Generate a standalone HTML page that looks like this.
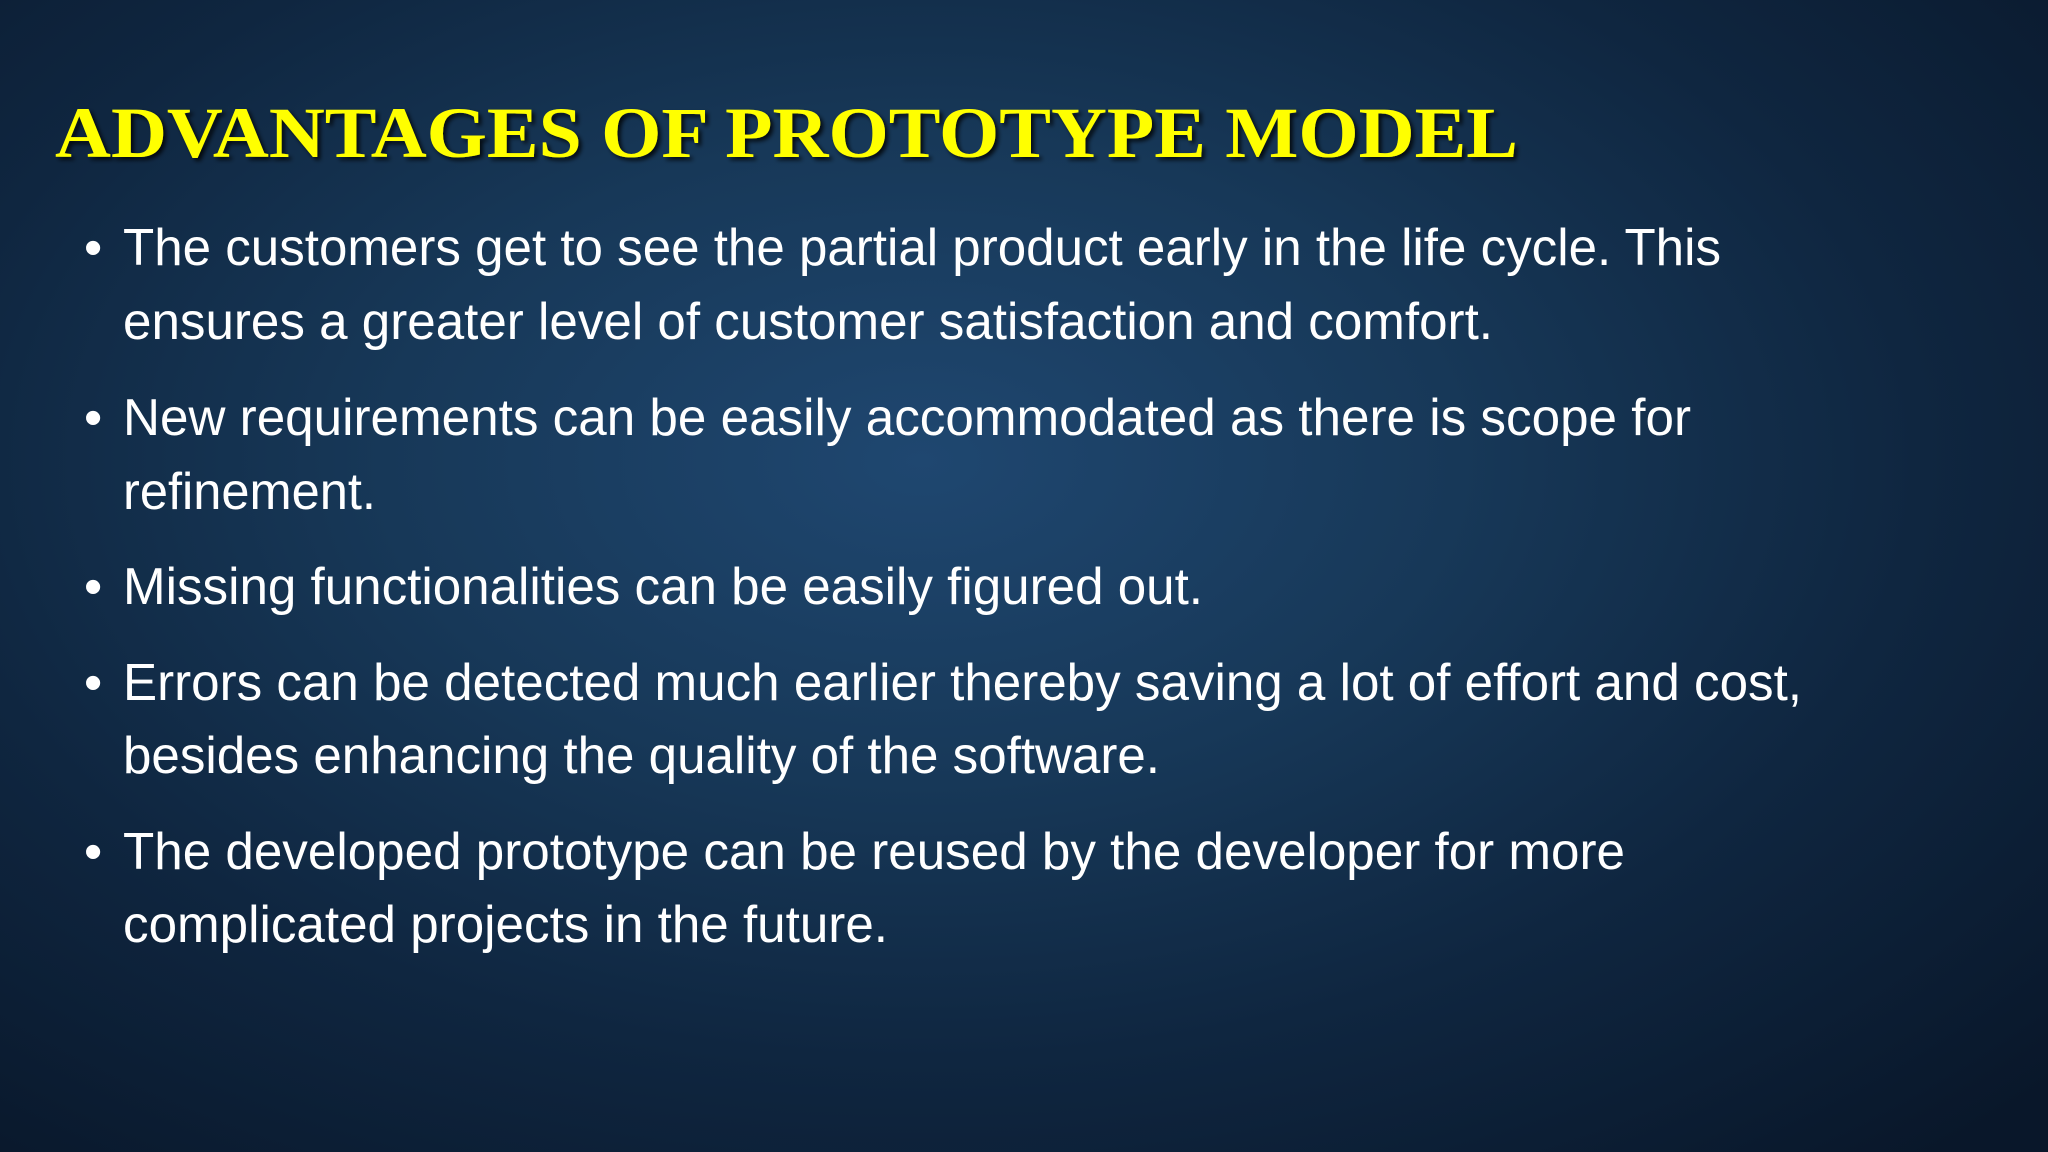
<!DOCTYPE html>
<html><head><meta charset="utf-8"><style>
html,body{margin:0;padding:0;width:2048px;height:1152px;overflow:hidden;}
body{background:radial-gradient(ellipse 75% 80% at 45% 40%, #1f4770 0%, #173858 35%, #0f2640 65%, #09172a 100%);}
svg{position:absolute;left:0;top:0;}
text{font-family:"Liberation Sans",Arial,sans-serif;fill:#fff;}
</style></head><body>
<svg width="2048" height="1152" viewBox="0 0 2048 1152">
<defs><filter id="sh" x="-5%" y="-20%" width="110%" height="140%"><feDropShadow dx="3" dy="3" stdDeviation="2" flood-color="#000" flood-opacity="0.8"/></filter></defs>
<text x="55" y="157" textLength="1463" lengthAdjust="spacingAndGlyphs" filter="url(#sh)" style="font-family:'Liberation Serif',serif;font-weight:bold;font-size:72px;fill:#ffff00;">ADVANTAGES OF PROTOTYPE MODEL</text>
<g font-size="52">
<text x="84" y="265">•</text>
<text x="123" y="265" textLength="1598" lengthAdjust="spacingAndGlyphs">The customers get to see the partial product early in the life cycle. This</text>
<text x="123" y="339" textLength="1370" lengthAdjust="spacingAndGlyphs">ensures a greater level of customer satisfaction and comfort.</text>
<text x="84" y="435">•</text>
<text x="123" y="435" textLength="1568" lengthAdjust="spacingAndGlyphs">New requirements can be easily accommodated as there is scope for</text>
<text x="123" y="509" textLength="253" lengthAdjust="spacingAndGlyphs">refinement.</text>
<text x="84" y="604">•</text>
<text x="123" y="604" textLength="1080" lengthAdjust="spacingAndGlyphs">Missing functionalities can be easily figured out.</text>
<text x="84" y="700">•</text>
<text x="123" y="700" textLength="1679" lengthAdjust="spacingAndGlyphs">Errors can be detected much earlier thereby saving a lot of effort and cost,</text>
<text x="123" y="773" textLength="1037" lengthAdjust="spacingAndGlyphs">besides enhancing the quality of the software.</text>
<text x="84" y="869">•</text>
<text x="123" y="869" textLength="1502" lengthAdjust="spacingAndGlyphs">The developed prototype can be reused by the developer for more</text>
<text x="123" y="942" textLength="765" lengthAdjust="spacingAndGlyphs">complicated projects in the future.</text>
</g>
</svg>
</body></html>
